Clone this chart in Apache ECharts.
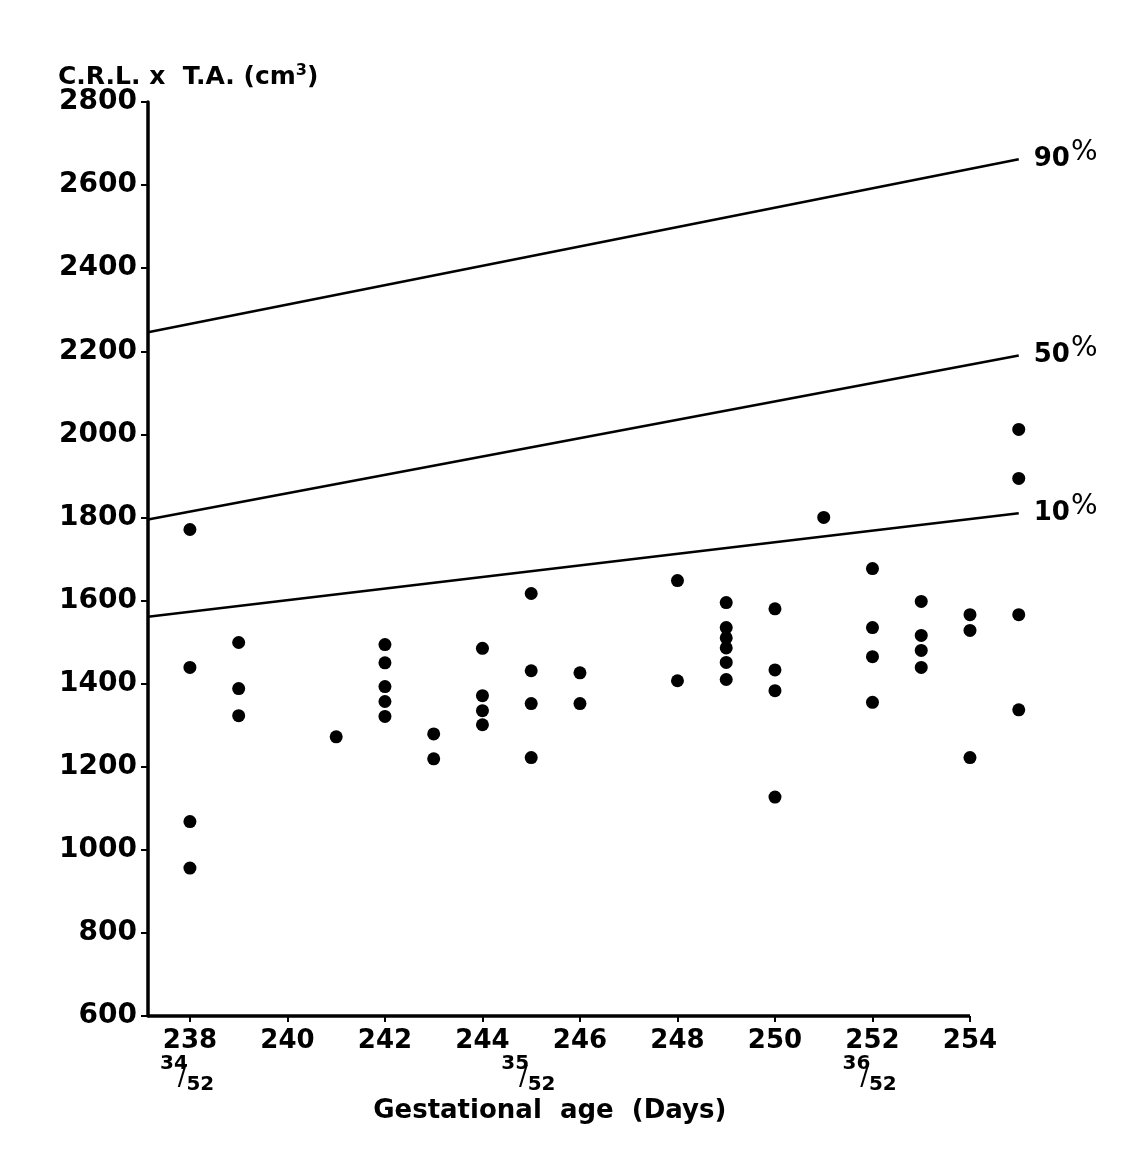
<!DOCTYPE html>
<html>
<head>
<meta charset="utf-8">
<script src="https://cdn.jsdelivr.net/npm/echarts@6/dist/echarts.min.js"></script>
<style>
html,body{margin:0;padding:0;background:#ffffff;}
#chart{width:1146px;height:1164px;}
</style>
</head>
<body>
<div id="chart"></div>
<script>
// ---- data ----
const dayTicks = [238, 240, 242, 244, 246, 248, 250, 252, 254];
const weekDays = [238, 245, 252];
const weekNums = ['34', '35', '36'];
const yTicks = [600, 800, 1000, 1200, 1400, 1600, 1800, 2000, 2200, 2400, 2600, 2800];

const pointDays = [
  238, 238, 238, 238,
  239, 239, 239,
  241,
  242, 242, 242, 242, 242,
  243, 243,
  244, 244, 244, 244,
  245, 245, 245, 245,
  246, 246,
  248, 248,
  249, 249, 249, 249, 249, 249,
  250, 250, 250, 250,
  251,
  252, 252, 252, 252,
  253, 253, 253, 253,
  254, 254, 254,
  255, 255, 255, 255
];
const pointValues = [
  1771, 1439, 1068, 956,
  1499, 1388, 1323,
  1272,
  1494, 1450, 1393, 1357, 1321,
  1279, 1219,
  1485, 1371, 1335, 1301,
  1617, 1431, 1352, 1222,
  1426, 1352,
  1648, 1407,
  1595, 1535, 1510, 1486, 1451, 1410,
  1580, 1433, 1383, 1127,
  1800,
  1677, 1535, 1465, 1355,
  1598, 1516, 1480, 1439,
  1566, 1528, 1222,
  2012, 1894, 1566, 1337
];

const lineDays = [237.14, 255];
const p90 = [2246, 2662];
const p50 = [1795, 2190];
const p10 = [1561, 1810];
const pctNames = ['90', '50', '10'];

const xMin = 237.14;
const xAxisEnd = 254;
const xMax = 256;
const yMin = 600;
const yMax = 2800;

// ---- chart ----
const FONT = 'DejaVu Sans';
const chart = echarts.init(document.getElementById('chart'));

const pairs = (xs, ys) => xs.map((x, i) => [x, ys[i]]);

function pctLine(vals, name) {
  return {
    type: 'line',
    data: pairs(lineDays, vals),
    symbol: 'none',
    silent: true,
    lineStyle: { color: '#000', width: 2.6 },
    endLabel: {
      show: true,
      distance: 15,
      formatter: '{n|' + name + '}{p|%}',
      rich: {
        n: { fontFamily: FONT, fontSize: 26, fontWeight: 'bold', color: '#000' },
        p: { fontFamily: FONT, fontSize: 28, color: '#000', padding: [0, 0, 13, 1] }
      }
    }
  };
}

const option = {
  backgroundColor: '#ffffff',
  animation: false,
  title: {
    text: '{a|C.R.L. x  T.A. (cm}{s|3}{a|)}',
    left: 53,
    top: 58,
    textStyle: {
      rich: {
        a: { fontFamily: FONT, fontSize: 25, fontWeight: 'bold', color: '#000' },
        s: { fontFamily: FONT, fontSize: 16, fontWeight: 'bold', color: '#000', padding: [0, 0, 13, 0] }
      }
    }
  },
  grid: { left: 148, top: 102, right: 78.5, bottom: 148 },
  xAxis: [
    {
      type: 'value',
      min: xMin,
      max: xMax,
      axisLine: { show: false },
      axisTick: { show: true, customValues: dayTicks, length: 6, lineStyle: { color: '#000', width: 2 } },
      axisLabel: {
        customValues: dayTicks,
        margin: 12,
        fontFamily: FONT, fontSize: 26, fontWeight: 'bold', color: '#000'
      },
      splitLine: { show: false },
      name: 'Gestational  age  (Days)',
      nameLocation: 'middle',
      nameGap: 82,
      nameTextStyle: { fontFamily: FONT, fontSize: 26, fontWeight: 'bold', color: '#000', padding: [0, 116, 0, 0] }
    },
    {
      type: 'value',
      min: xMin,
      max: xMax,
      position: 'bottom',
      axisLine: { show: false },
      axisTick: { show: false },
      splitLine: { show: false },
      axisLabel: {
        customValues: weekDays,
        margin: 37,
        formatter: function (v) {
          const i = weekDays.indexOf(v);
          return '{t|' + weekNums[i] + '}\n{s|/}{b|52}';
        },
        rich: {
          t: { fontFamily: FONT, fontSize: 20, fontWeight: 'bold', color: '#000', padding: [0, 32, 0, 0], lineHeight: 21 },
          s: { fontFamily: FONT, fontSize: 26, color: '#000', padding: [0, 0, 12, 12], lineHeight: 21 },
          b: { fontFamily: FONT, fontSize: 20, fontWeight: 'bold', color: '#000', lineHeight: 21 }
        }
      }
    }
  ],
  yAxis: {
    type: 'value',
    min: yMin,
    max: yMax,
    interval: 200,
    axisLine: { show: true, lineStyle: { color: '#000', width: 3.5 } },
    axisTick: { show: true, length: 7, lineStyle: { color: '#000', width: 2 } },
    axisLabel: {
      margin: 11, fontFamily: FONT, fontSize: 28, fontWeight: 'bold', color: '#000',
      formatter: function (v) { return String(v); }
    },
    splitLine: { show: false }
  },
  series: [
    pctLine(p90, pctNames[0]),
    pctLine(p50, pctNames[1]),
    pctLine(p10, pctNames[2]),
    {
      type: 'scatter',
      data: pairs(pointDays, pointValues),
      symbol: 'circle',
      symbolSize: 13,
      itemStyle: { color: '#000', opacity: 1 },
      markLine: {
        silent: true,
        symbol: 'none',
        label: { show: false },
        lineStyle: { color: '#000', width: 3.5, type: 'solid' },
        data: [[{ coord: [xMin, yMin] }, { coord: [xAxisEnd, yMin] }]]
      }
    }
  ]
};
chart.setOption(option);
</script>
</body>
</html>
